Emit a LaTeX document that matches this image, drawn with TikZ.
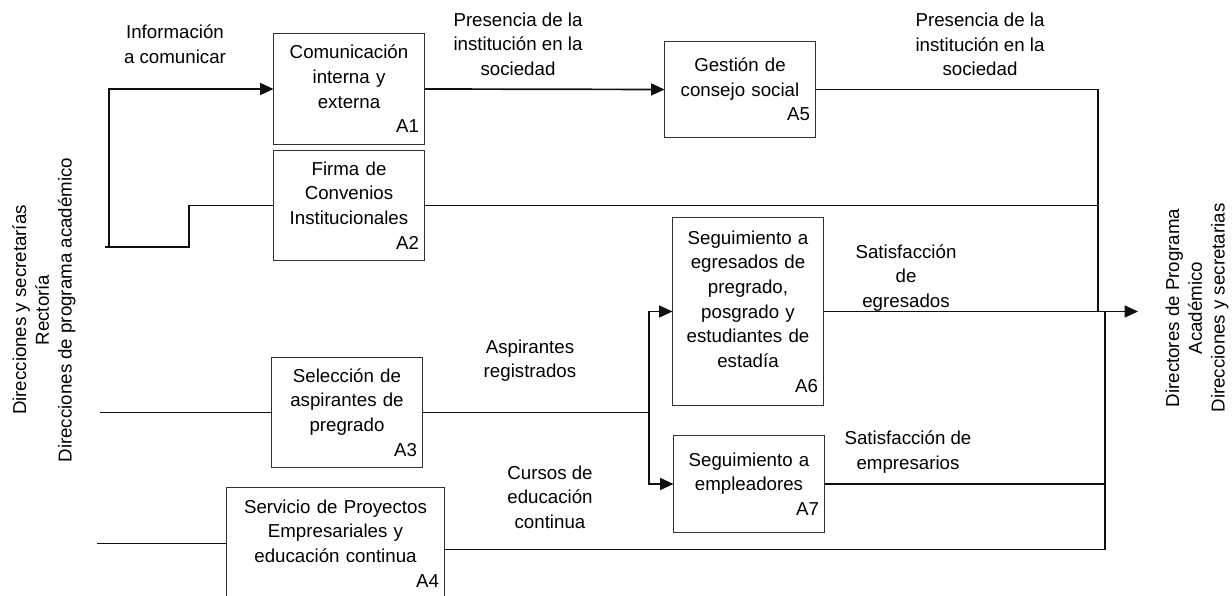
\documentclass[tikz,border=0pt]{standalone}
\usepackage{fontspec}
\setmainfont{Liberation Sans}
\usepackage{tikz}
\usetikzlibrary{arrows.meta, positioning, calc}
\definecolor{mydark}{RGB}{15,15,15}
\definecolor{myframe}{RGB}{50,50,50}
\tikzset{
  block/.style={rectangle, draw=myframe, fill=white, align=center,
    text width=3.5cm, inner xsep=0.125cm, inner ysep=0pt, line width=0.7pt},
  arrow/.style={-{Triangle[length=9.5pt, width=8.5pt]}, line width=1.2pt, color=mydark},
  line/.style={line width=1.2pt, color=mydark},
  flowlabel/.style={align=center, inner sep=0pt},
  sidelabel/.style={align=center, rotate=90, inner sep=0pt,
    font=\fontsize{13.3}{16.2}\selectfont}
}

\begin{document}
\begin{tikzpicture}[x=0.025cm, y=-0.025cm, every node/.style={font=\fontsize{13.3}{17.5}\selectfont}]
  \useasboundingbox (0,0) rectangle (1232,596);

  % Activities
  \node[block, minimum height=2.75cm] (A1) at (349,89) {Comunicación\\interna y\\externa\\\hfill A1};
  \node[block, minimum height=2.725cm] (A2) at (349,205.5) {Firma de\\Convenios\\Institucionales\\\hfill A2};
  \node[block, minimum height=2.725cm] (A3) at (347,412.5) {Selección de\\aspirantes de\\pregrado\\\hfill A3};
  \node[block, text width=5.175cm, minimum height=2.775cm] (A4) at (335.5,543.5) {Servicio de Proyectos\\Empresariales y\\educación continua\\\hfill A4};
  \node[block, minimum height=2.375cm] (A5) at (740,89.5) {Gestión de\\consejo social\\\hfill A5};
  \node[block, minimum height=4.675cm] (A6) at (748,311.5) {Seguimiento a\\egresados de\\pregrado,\\posgrado y\\estudiantes de\\estadía\\\hfill A6};
  \node[block, minimum height=2.4cm] (A7) at (749,484) {Seguimiento a\\empleadores\\\hfill A7};

  % Sources and destinations
  \node[sidelabel] (src) at (44,310) {Direcciones y secretarías\\Rectoría\\Direcciones de programa académico};
  \node[sidelabel] (dst) at (1197,308) {Directores de Programa\\Académico\\Direcciones y secretarias};

  % Inputs of A1 and A2
  \coordinate (inA) at (105,247);
  \coordinate (inB) at (109,247);
  \coordinate (stepA2) at (189,247);
  \draw[line] (inA) -- (stepA2) |- (A2.west);
  \draw[arrow] (inB) |- (A1.west);
  \node[flowlabel] (lblinfo) at (175,44.5) {Información\\a comunicar};

  % A1 to A5
  \draw[arrow] (A1.east) -- (A5.west);
  \node[flowlabel] (lblpres) at (518,44) {Presencia de la\\institución en la\\sociedad};

  % Collecting lines to the output
  \coordinate (busA) at (1098,311.5);
  \coordinate (busB) at (1105,311.5);
  \coordinate (outR) at (1138,311.5);
  \draw[line] (A5.east) -| (busA);
  \node[flowlabel] (lblpresout) at (980,44.5) {Presencia de la\\institución en la\\sociedad};
  \draw[line] (A2.east) -- (A2.east -| busA);
  \draw[arrow] (A6.east) -- (outR);
  \node[flowlabel] (lblegr) at (906,278) {Satisfacción\\de\\egresados};

  % A3 to A6 and A7
  \coordinate (inA3) at (100,412.5);
  \draw[line] (inA3) -- (A3.west);
  \coordinate (fork) at (649,412.5);
  \draw[line] (A3.east) -- (fork);
  \draw[arrow] (fork) |- (A6.west);
  \draw[arrow] (fork) |- (A7.west);
  \node[flowlabel] (lblasp) at (530,360.5) {Aspirantes\\registrados};

  % A4 and A7 outputs
  \coordinate (inA4) at (97,543.5);
  \draw[line] (inA4) -- (A4.west);
  \draw[line] ($(A4.east)+(0,6)$) -| (busB);
  \node[flowlabel] (lblcur) at (550,497) {Cursos de\\educación\\continua};
  \draw[line] (A7.east) -- (A7.east -| busB);
  \node[flowlabel] (lblemp) at (908,452) {Satisfacción de\\empresarios};
\end{tikzpicture}
\end{document}
